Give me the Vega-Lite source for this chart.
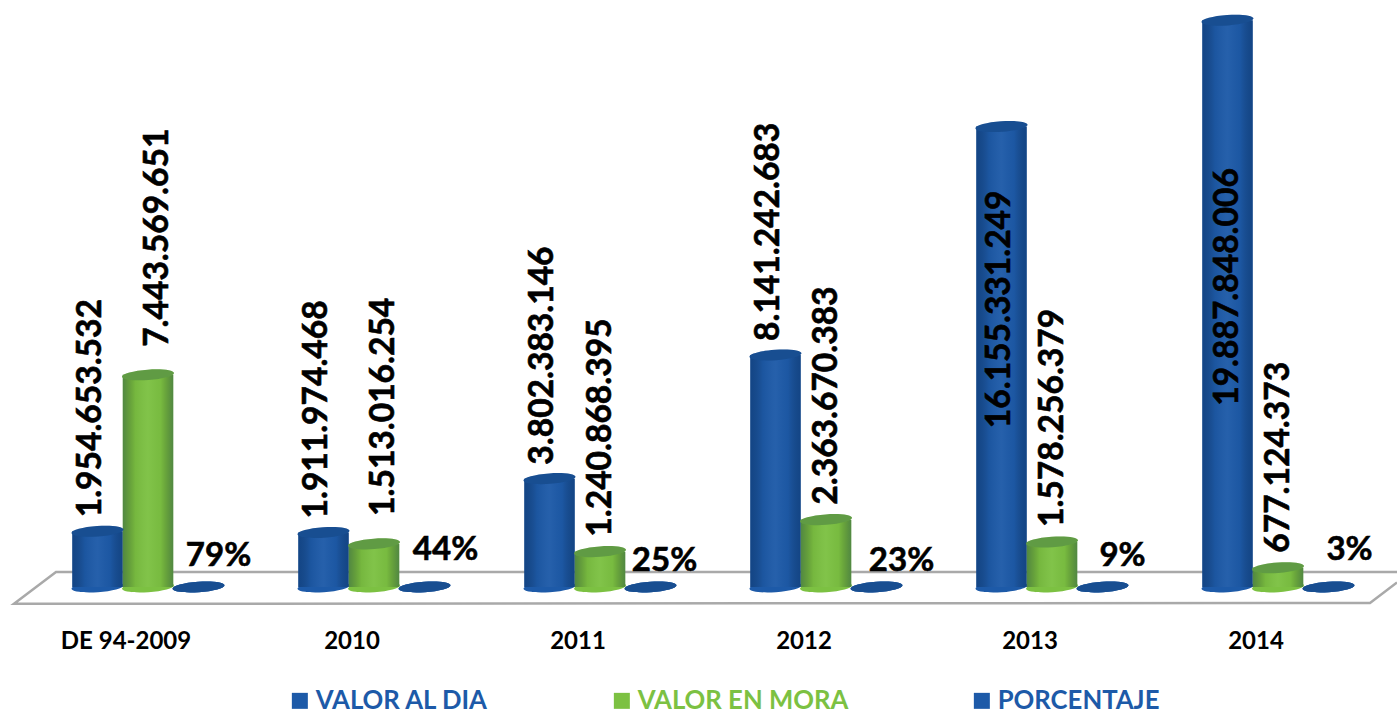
{"$schema":"https://vega.github.io/schema/vega-lite/v6.json","width":1397,"height":714,"autosize":"none","padding":0,"background":"white","config":{"view":{"stroke":null},"text":{"font":"Lato","fontWeight":"bold","color":"#000000","stroke":"#000000","strokeWidth":0.6}},
"datasets":{"main":[
{"cat":"DE 94-2009","serie":"VALOR AL DIA","valor":1954653532,"etiqueta":"1.954.653.532"},
{"cat":"DE 94-2009","serie":"VALOR EN MORA","valor":7443569651,"etiqueta":"7.443.569.651"},
{"cat":"DE 94-2009","serie":"PORCENTAJE","valor":0.79,"etiqueta":"79%"},
{"cat":"2010","serie":"VALOR AL DIA","valor":1911974468,"etiqueta":"1.911.974.468"},
{"cat":"2010","serie":"VALOR EN MORA","valor":1513016254,"etiqueta":"1.513.016.254"},
{"cat":"2010","serie":"PORCENTAJE","valor":0.44,"etiqueta":"44%"},
{"cat":"2011","serie":"VALOR AL DIA","valor":3802383146,"etiqueta":"3.802.383.146"},
{"cat":"2011","serie":"VALOR EN MORA","valor":1240868395,"etiqueta":"1.240.868.395"},
{"cat":"2011","serie":"PORCENTAJE","valor":0.25,"etiqueta":"25%"},
{"cat":"2012","serie":"VALOR AL DIA","valor":8141242683,"etiqueta":"8.141.242.683"},
{"cat":"2012","serie":"VALOR EN MORA","valor":2363670383,"etiqueta":"2.363.670.383"},
{"cat":"2012","serie":"PORCENTAJE","valor":0.23,"etiqueta":"23%"},
{"cat":"2013","serie":"VALOR AL DIA","valor":16155331249,"etiqueta":"16.155.331.249"},
{"cat":"2013","serie":"VALOR EN MORA","valor":1578256379,"etiqueta":"1.578.256.379"},
{"cat":"2013","serie":"PORCENTAJE","valor":0.09,"etiqueta":"9%"},
{"cat":"2014","serie":"VALOR AL DIA","valor":19887848006,"etiqueta":"19.887.848.006"},
{"cat":"2014","serie":"VALOR EN MORA","valor":677124373,"etiqueta":"677.124.373"},
{"cat":"2014","serie":"PORCENTAJE","valor":0.03,"etiqueta":"3%"}],
"piso":[
{"tramo":"a","orden":1,"px":1397,"py":526000000},
{"tramo":"a","orden":2,"px":56,"py":526000000},
{"tramo":"a","orden":3,"px":14,"py":-590000000},
{"tramo":"a","orden":4,"px":1370,"py":-560000000},
{"tramo":"a","orden":5,"px":1397,"py":160000000}]},
"resolve":{"scale":{"x":"independent"},"axis":{"x":"independent"}},
"layer":[
{"data":{"name":"piso"},"mark":{"type":"line","color":"#a9a9a9","strokeWidth":2.5,"interpolate":"linear"},
"encoding":{"x":{"field":"px","type":"quantitative","scale":{"domain":[0,1397],"nice":false,"zero":false},"axis":null},
"y":{"field":"py","type":"quantitative","scale":{"domain":[-4456000000,20596000000],"nice":false},"axis":null},"order":{"field":"orden"}}},
{"data":{"name":"main"},
"encoding":{
"x":{"field":"cat","type":"nominal","sort":null,"scale":{"type":"band","domain":["DE 94-2009","2010","2011","2012","2013","2014"],"paddingInner":0,"paddingOuter":0.0907,"align":0.854},
"axis":{"title":null,"orient":"bottom","domain":false,"ticks":false,"labelAngle":0,"labelFont":"Lato","labelFontWeight":"bold","labelFontSize":24,"labelColor":"#000000","labelOffset":-22,"labelPadding":0,"offset":-85,"grid":false}},
"xOffset":{"field":"serie","type":"nominal","scale":{"domain":["VALOR AL DIA","VALOR EN MORA","PORCENTAJE"],"paddingInner":0,"paddingOuter":0.737}},
"y":{"field":"valor","type":"quantitative","scale":{"domain":[-4456000000,20596000000],"nice":false},"axis":null}},
"layer":[
{"mark":{"type":"point","filled":true,"opacity":1,"shape":"M-1,0.07 A1,0.2 -4 1 1 1,-0.07 A1,0.2 -4 1 1 -1,0.07 Z","size":2704,"strokeWidth":0},
"encoding":{"y":{"datum":0},"color":{"field":"serie","type":"nominal","scale":{"domain":["VALOR AL DIA","VALOR EN MORA","PORCENTAJE"],"range":["#1d5aa8","#7cc142","#1d5aa8"]},
"legend":{"title":null,"orient":"none","legendX":287,"legendY":688,"direction":"horizontal","columns":3,"gridAlign":"none","columnPadding":120,"symbolType":"square","symbolSize":256,"symbolStrokeWidth":0,"labelFont":"Lato","labelFontWeight":"bold","labelFontSize":25.7,"labelOffset":3,"labelLimit":400,"symbolOpacity":1,"encode":{"labels":{"update":{"fill":{"scale":"color","field":"value"}}}}}}}},
{"mark":{"type":"bar"},"encoding":{"color":{"field":"serie","type":"nominal"}}},
{"mark":{"type":"bar","fill":{"gradient":"linear","x1":0,"x2":1,"y1":0,"y2":0,"stops":[{"offset":0,"color":"rgba(0,30,70,0.35)"},{"offset":0.25,"color":"rgba(0,0,0,0.05)"},{"offset":0.5,"color":"rgba(255,255,255,0.04)"},{"offset":0.75,"color":"rgba(0,0,0,0.03)"},{"offset":1,"color":"rgba(0,30,70,0.35)"}]}}},
{"mark":{"type":"point","filled":true,"opacity":1,"shape":"M-1,0.07 A1,0.2 -4 1 1 1,-0.07 A1,0.2 -4 1 1 -1,0.07 Z","size":2704,"strokeWidth":0},"encoding":{"color":{"field":"serie","type":"nominal"}}},
{"mark":{"type":"point","filled":true,"opacity":0.25,"fill":"#0a2a4a","shape":"M-1,0.07 A1,0.2 -4 1 1 1,-0.07 A1,0.2 -4 1 1 -1,0.07 Z","size":2704,"strokeWidth":0}},
{"transform":[{"filter":"datum.serie==='VALOR AL DIA' && datum.valor<10000000000"}],"mark":{"type":"text","angle":270,"align":"left","baseline":"middle","fontSize":33.5,"dx":14,"dy":-6},"encoding":{"text":{"field":"etiqueta"}}},
{"transform":[{"filter":"datum.serie==='VALOR EN MORA' && (datum.cat==='DE 94-2009' || datum.cat==='2010')"}],"mark":{"type":"text","angle":270,"align":"left","baseline":"middle","fontSize":33.5,"dx":28,"dy":10},"encoding":{"text":{"field":"etiqueta"}}},
{"transform":[{"filter":"datum.serie==='VALOR EN MORA' && datum.cat!=='DE 94-2009' && datum.cat!=='2010'"}],"mark":{"type":"text","angle":270,"align":"left","baseline":"middle","fontSize":33.5,"dx":15,"dy":1},"encoding":{"text":{"field":"etiqueta"}}},
{"transform":[{"filter":"datum.cat==='2013' && datum.serie==='VALOR AL DIA'"}],"mark":{"type":"text","angle":270,"align":"right","baseline":"middle","fontSize":33.5,"dx":-64,"dy":-1},"encoding":{"text":{"field":"etiqueta"}}},
{"transform":[{"filter":"datum.cat==='2014' && datum.serie==='VALOR AL DIA'"}],"mark":{"type":"text","angle":270,"align":"right","baseline":"middle","fontSize":33.5,"dx":-148,"dy":0},"encoding":{"text":{"field":"etiqueta"}}},
{"transform":[{"filter":"datum.etiqueta==='44%' || datum.etiqueta==='3%'"}],"mark":{"type":"text","align":"center","baseline":"middle","fontSize":33,"dx":21,"dy":-37},"encoding":{"text":{"field":"etiqueta"}}},
{"transform":[{"filter":"datum.etiqueta==='79%' || datum.etiqueta==='9%'"}],"mark":{"type":"text","align":"center","baseline":"middle","fontSize":33,"dx":20,"dy":-31},"encoding":{"text":{"field":"etiqueta"}}},
{"transform":[{"filter":"datum.etiqueta==='25%'"}],"mark":{"type":"text","align":"center","baseline":"middle","fontSize":33,"dx":14,"dy":-26},"encoding":{"text":{"field":"etiqueta"}}},
{"transform":[{"filter":"datum.etiqueta==='23%'"}],"mark":{"type":"text","align":"center","baseline":"middle","fontSize":33,"dx":25,"dy":-26},"encoding":{"text":{"field":"etiqueta"}}}
]}
]}
